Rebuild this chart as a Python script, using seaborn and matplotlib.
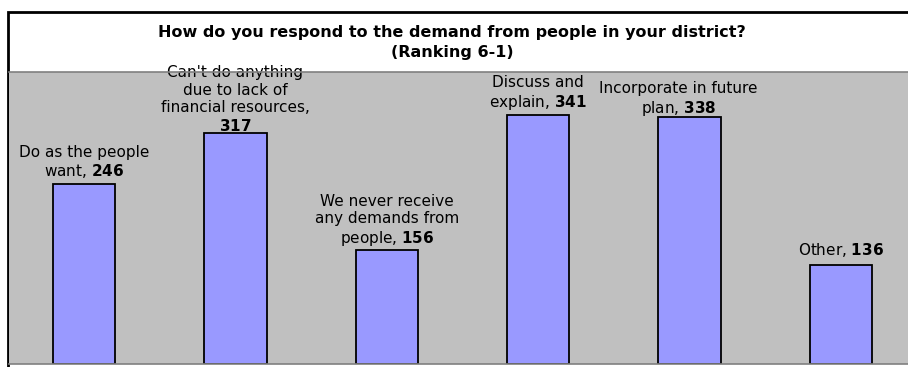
import matplotlib
matplotlib.use("Agg")
import matplotlib.pyplot as plt
from matplotlib.patches import Rectangle
import seaborn as sns
import pandas as pd

# Survey answers and their counts
categories = [
    "Do as the people\nwant",
    "Can't do anything\ndue to lack of\nfinancial resources,\n",
    "We never receive\nany demands from\npeople",
    "Discuss and\nexplain",
    "Incorporate in future\nplan",
    "Other",
]
values = [246, 317, 156, 341, 338, 136]
title_lines = ["How do you respond to the demand from people in your district?",
               "(Ranking 6-1)"]

sns.set_style("white")
plt.rcParams["font.family"] = ["DejaVu Sans"]
plt.rcParams["mathtext.fontset"] = "dejavusans"
plt.rcParams["text.color"] = "black"

W, H = 908, 367
fig = plt.figure(figsize=(W / 100, H / 100), dpi=100)
fig.patch.set_facecolor("white")

# chart border (runs off the right and bottom edges)
fig.add_artist(Rectangle((8 / W, -0.05), 1.2, (H - 12) / H + 0.05,
                         transform=fig.transFigure, fill=False,
                         edgecolor="black", linewidth=2, zorder=0))

ax = fig.add_axes([8.5 / W, 3 / H, 908 / W, 292 / H])
df = pd.DataFrame({"cat": [c.replace("\n", " ") for c in categories], "val": values})
sns.barplot(data=df, x="cat", y="val", color="#9999FF", saturation=1,
            edgecolor="black", linewidth=1.3, width=0.41, ax=ax)

ax.set_facecolor("#C0C0C0")
ax.set_xlim(-0.5, 5.5)
ax.set_ylim(0, 400)
ax.set_xticks([])
ax.set_yticks([])
ax.set_xlabel("")
ax.set_ylabel("")
for side in ("left", "right"):
    ax.spines[side].set_visible(False)
for side in ("top", "bottom"):
    ax.spines[side].set_color("#808080")
    ax.spines[side].set_linewidth(1.2)
    ax.spines[side].set_zorder(4)

# data labels: category text with the count in bold
label_dx = [0, 0, 0, 0, -11, 0]
label_dy = [4, -1, 2, 3, -1, 6]
for i, (cat, v) in enumerate(zip(categories, values)):
    if cat.endswith("\n"):
        text = cat + r"$\mathbf{%d}$" % v
    else:
        text = cat + r", $\mathbf{%d}$" % v
    ax.annotate(text, xy=(i, v), xytext=(label_dx[i], label_dy[i]),
                textcoords="offset pixels", ha="center", va="bottom",
                fontsize=11, linespacing=1.2, color="black",
                annotation_clip=False, zorder=3)

fig.text(452 / W, 1 - 32 / H, title_lines[0], ha="center", va="center",
         fontsize=11.5, fontweight="bold")
fig.text(452 / W, 1 - 52 / H, title_lines[1], ha="center", va="center",
         fontsize=11.5, fontweight="bold")

fig.savefig("out.png", dpi=100)
